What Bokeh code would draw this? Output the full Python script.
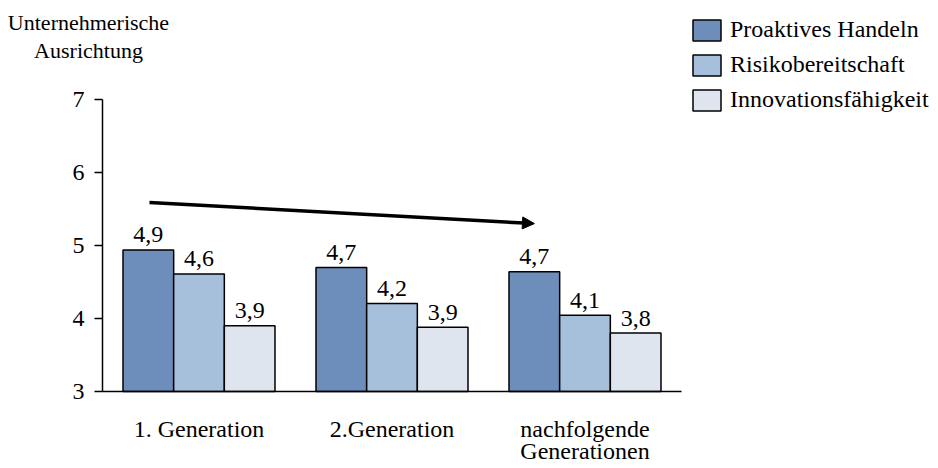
from bokeh.plotting import figure
from bokeh.models import (ColumnDataSource, Range1d, Legend, LegendItem,
                          Label, Arrow, NormalHead, FixedTicker)
from bokeh.core.properties import value
from bokeh.embed import file_html
from bokeh.resources import INLINE

# ---------------- data ----------------
categories = ["1. Generation", "2.Generation", "nachfolgende\nGenerationen"]
series_names = ["Proaktives Handeln", "Risikobereitschaft", "Innovationsfähigkeit"]
proaktiv = [4.94, 4.70, 4.64]
risiko = [4.61, 4.205, 4.045]
innovation = [3.90, 3.88, 3.80]
proaktiv_labels = ["4,9", "4,7", "4,7"]
risiko_labels = ["4,6", "4,2", "4,1"]
innovation_labels = ["3,9", "3,9", "3,8"]
y_ticks = [3, 4, 5, 6, 7]
y_title = ["Unternehmerische", "Ausrichtung"]
trend_x = [0.2435, 2.238]
trend_y = [5.59, 5.30]

# ---------------- style / layout ----------------
FONT = "Liberation Serif"
colors = ["#6D8EBA", "#A6BFDB", "#DEE5EF"]
bar_w = 0.2625
W, H = 938, 468
AX_X0, PX_PER_CAT = 102, 193     # left end of category axis (px), px per category
AX_Y3, PX_PER_UNIT = 391, 73     # pixel row of value 3, px per value unit
x_lo = (0 - AX_X0) / PX_PER_CAT
x_hi = (W - AX_X0) / PX_PER_CAT
y_lo = y_ticks[0] - (H - AX_Y3) / PX_PER_UNIT
y_hi = y_ticks[0] + AX_Y3 / PX_PER_UNIT

p = figure(x_range=Range1d(x_lo, x_hi), y_range=Range1d(y_lo, y_hi),
           width=W, height=H, output_backend="svg", toolbar_location=None,
           min_border=0, min_border_left=0, min_border_right=0,
           min_border_top=0, min_border_bottom=0)
p.title.visible = False
p.outline_line_color = None
p.xgrid.visible = False
p.ygrid.visible = False
p.background_fill_color = "white"
p.border_fill_color = "white"

n_cat = len(categories)
centers = [i + 0.5 for i in range(n_cat)]
values_list = [proaktiv, risiko, innovation]
labels_list = [proaktiv_labels, risiko_labels, innovation_labels]
offsets = [-bar_w, 0.0, bar_w]
renderers = []
for vals, lbls, off, col in zip(values_list, labels_list, offsets, colors):
    src = ColumnDataSource(dict(x=[c + off for c in centers], val=vals, lbl=lbls))
    r = p.vbar(x="x", top="val", bottom=y_ticks[0], width=bar_w,
               source=src, fill_color=col, line_color="black", line_width=1.5)
    renderers.append(r)
    p.text(x="x", y="val", text="lbl", source=src,
           text_align="center", text_baseline="middle", y_offset=-15,
           text_font=value(FONT), text_font_size="24px", text_color="black")

# trend arrow
p.add_layout(Arrow(end=NormalHead(size=12, fill_color="black", line_color="black", line_width=1),
                   x_start=trend_x[0], y_start=trend_y[0], x_end=trend_x[1], y_end=trend_y[1],
                   line_width=3.5, line_color="black"))

# axes at fixed positions
yax = p.yaxis[0]
yax.fixed_location = 0
yax.bounds = (y_ticks[0], y_ticks[-1])
yax.ticker = FixedTicker(ticks=y_ticks)
yax.minor_tick_line_color = None
yax.major_tick_in = 0
yax.major_tick_out = 8
yax.major_label_standoff = 10
yax.axis_line_width = 1.5
yax.major_tick_line_width = 1.5
yax.major_tick_line_color = "black"

xax = p.xaxis[0]
xax.fixed_location = y_ticks[0]
xax.bounds = (0, n_cat)
xax.ticker = FixedTicker(ticks=centers)
xax.major_label_overrides = {c: name for c, name in zip(centers, categories)}
xax.minor_tick_line_color = None
xax.major_tick_in = 0
xax.major_tick_out = 0
xax.major_tick_line_color = None
xax.axis_line_width = 1.5
xax.major_label_standoff = 24
xax.major_label_text_line_height = 0.88

for ax in (xax, yax):
    ax.major_label_text_font = FONT
    ax.major_label_text_font_size = "24px"
    ax.major_label_text_color = "black"
    ax.axis_line_color = "black"

# y title (two lines, above the axis)
title_x = (88 - AX_X0) / PX_PER_CAT
for txt, mid_px in zip(y_title, [22, 50]):
    p.add_layout(Label(x=title_x, y=y_ticks[0] + (AX_Y3 - mid_px) / PX_PER_UNIT, text=txt,
                       text_align="center", text_baseline="middle",
                       text_font=FONT, text_font_size="22px", text_color="black"))

# legend
legend = Legend(items=[LegendItem(label=n, renderers=[r]) for n, r in zip(series_names, renderers)],
                location=(689, H - 113), orientation="vertical",
                glyph_width=35, glyph_height=26, label_height=26, label_standoff=6,
                spacing=8, padding=0, margin=0,
                border_line_color=None, background_fill_alpha=0,
                label_text_font=FONT, label_text_font_size="24px", label_text_color="black")
p.add_layout(legend)

open("out.html", "w").write(file_html(p, INLINE))
